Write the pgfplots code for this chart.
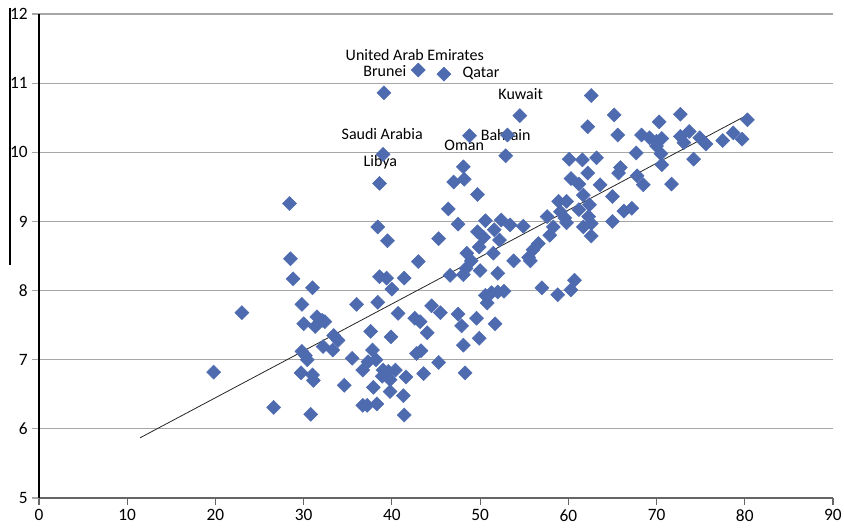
\documentclass[border=0pt]{standalone}
\usepackage{fontspec}
\setmainfont{Carlito}
\usepackage{pgfplots}
\pgfplotsset{compat=1.18}
\definecolor{ptblue}{RGB}{78,107,176}
\definecolor{gridgray}{RGB}{166,166,166}

\pgfplotstableread{
x y
19.8 6.82
23.0 7.68
26.6 6.31
28.4 9.26
28.5 8.46
28.8 8.17
29.8 7.80
30.0 7.52
29.8 7.12
30.2 7.06
30.4 7.00
29.7 6.81
31.0 6.78
31.1 6.70
30.8 6.21
31.0 8.04
31.5 7.62
32.1 7.57
31.3 7.48
32.4 7.55
33.4 7.35
33.9 7.28
33.3 7.14
32.2 7.19
34.6 6.63
35.5 7.02
36.0 7.80
36.7 6.85
36.7 6.34
37.2 6.34
38.3 6.36
37.9 6.60
37.6 7.41
37.8 7.14
37.3 6.97
38.2 7.00
38.4 7.83
38.6 8.20
39.4 8.18
40.0 8.02
41.4 8.18
39.9 7.33
39.0 6.85
39.6 6.83
40.4 6.85
38.9 6.76
39.8 6.71
41.6 6.75
39.8 6.54
41.3 6.48
41.4 6.20
40.7 7.67
42.6 7.60
43.2 7.55
44.5 7.78
45.5 7.68
44.0 7.39
42.8 7.09
43.3 7.13
43.6 6.80
45.3 6.96
47.5 7.66
47.9 7.49
48.1 7.21
48.3 6.81
49.6 7.60
49.9 7.31
51.7 7.52
50.8 7.82
50.6 7.93
51.3 7.97
52.0 7.98
52.7 7.99
43.0 8.42
46.6 8.22
48.1 8.23
48.4 8.32
49.0 8.43
50.0 8.29
52.0 8.25
48.5 8.54
53.8 8.43
55.5 8.48
55.7 8.43
56.0 8.59
56.6 8.68
57.0 8.04
58.8 7.94
60.3 8.01
60.7 8.15
38.4 8.92
39.5 8.72
45.3 8.75
46.4 9.18
47.5 8.96
49.7 9.39
50.6 9.01
52.4 9.02
53.4 8.95
54.9 8.93
49.7 8.85
50.4 8.77
49.9 8.63
51.6 8.88
52.2 8.73
51.5 8.54
47.0 9.57
48.2 9.61
48.1 9.79
38.6 9.55
39.0 9.97
39.1 10.86
43.0 11.19
45.9 11.13
54.5 10.53
48.8 10.24
53.1 10.25
52.9 9.95
57.6 9.07
57.9 8.80
58.3 8.92
58.9 9.29
59.8 9.29
59.1 9.14
59.6 9.05
59.8 8.98
60.1 9.90
61.6 9.89
63.2 9.92
60.3 9.62
61.2 9.54
62.2 9.70
63.6 9.53
61.7 9.38
62.4 9.24
61.2 9.17
62.3 9.07
62.6 8.97
61.7 8.92
62.6 8.79
65.0 9.36
65.0 9.00
66.3 9.15
67.2 9.19
65.9 9.78
65.7 9.70
67.8 9.66
68.5 9.53
71.7 9.54
67.7 9.99
70.5 9.98
70.6 9.82
74.2 9.90
62.6 10.82
65.2 10.54
62.2 10.37
65.6 10.25
70.3 10.44
72.7 10.55
80.3 10.47
78.7 10.28
79.7 10.19
77.5 10.17
74.9 10.21
75.6 10.12
72.7 10.23
73.7 10.30
73.1 10.14
68.3 10.25
69.2 10.21
70.0 10.16
70.6 10.20
70.0 10.09
}\countries

\begin{document}
\begin{tikzpicture}
\useasboundingbox (-29.25pt,-22.5pt) rectangle (603.75pt,373.5pt);
\begin{axis}[
    at={(0,0)}, anchor=south west,
    scale only axis,
    width=595.5pt, height=363pt,
    xmin=0, xmax=90, ymin=5, ymax=12,
    xtick={0,10,...,90}, ytick={5,6,...,12},
    axis x line=bottom, axis y line=left,
    axis line style={-},
    x axis line style={black!60, line width=0.8pt},
    y axis line style={black, line width=0.8pt},
    ymajorgrids,
    grid style={gridgray, line width=0.8pt},
    tick align=outside,
    major tick length=5pt,
    xtick style={black!60, line width=0.8pt},
    ytick style={gridgray, line width=0.8pt},
    /pgf/number format/assume math mode=true,
    tick label style={font=\fontsize{13}{15}\selectfont},
    clip=false,
  ]
  \addplot[only marks, mark=square*, mark size=3.7pt,
           every mark/.append style={rotate=45},
           color=ptblue] table[x=x, y=y] {\countries};
  % trend line
  \addplot[black!85, line width=0.6pt] coordinates {(11.45,5.87) (80.3,10.54)};

  \begin{scope}[every node/.style={font=\fontsize{12}{14}\selectfont, inner sep=0pt}]
  \node at (axis cs:42.6,11.40) {United Arab Emirates};
  \node at (axis cs:39.2,11.17) {Brunei};
  \node at (axis cs:50.1,11.14) {Qatar};
  \node at (axis cs:54.6,10.84) {Kuwait};
  \node at (axis cs:38.9,10.27) {Saudi Arabia};
  \node at (axis cs:52.9,10.25) {Bahrain};
  \node at (axis cs:48.2,10.10) {Oman};
  \node at (axis cs:38.7,9.85) {Libya};
  \end{scope}
\end{axis}
\draw[black, line width=0.8pt] (-21.75pt,174.75pt) -- (-21.75pt,367.5pt);
\end{tikzpicture}
\end{document}
